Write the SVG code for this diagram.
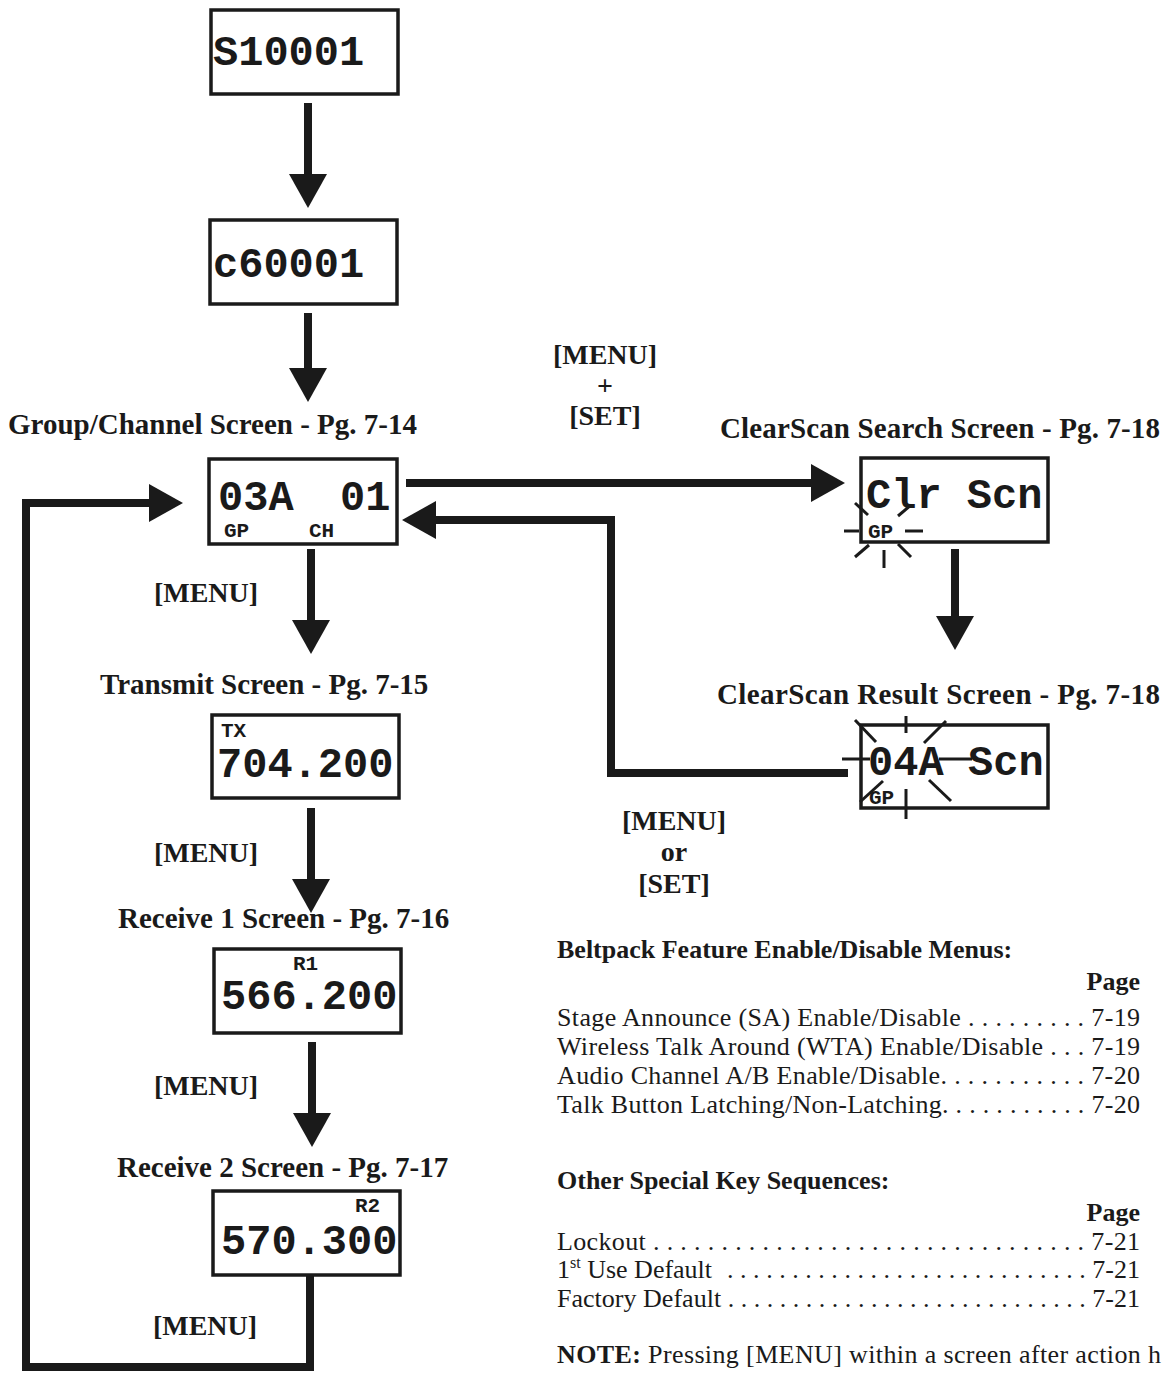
<svg xmlns="http://www.w3.org/2000/svg" width="1164" height="1374" viewBox="0 0 1164 1374">
<style>
.box{fill:#fff;stroke:#1a1a1a;stroke-width:3.5}
.big{font-family:"Liberation Mono","Courier New",monospace;font-weight:bold;font-size:42px;fill:#1a1a1a}
.sm{font-family:"Liberation Mono","Courier New",monospace;font-weight:bold;font-size:21px;fill:#1a1a1a}
.hd{font-family:"Liberation Serif","Times New Roman",serif;font-weight:bold;font-size:29px;fill:#1a1a1a}
.key{font-family:"Liberation Serif","Times New Roman",serif;font-weight:bold;font-size:28px;fill:#1a1a1a;text-anchor:middle}
.tb{font-family:"Liberation Serif","Times New Roman",serif;font-weight:bold;font-size:26px;fill:#1a1a1a}
.tr{font-family:"Liberation Serif","Times New Roman",serif;font-size:26px;fill:#1a1a1a}
.conn{fill:none;stroke:#1a1a1a;stroke-width:8}
.flash{stroke:#1a1a1a;stroke-width:3}
</style>
<defs>
<marker id="ah" viewBox="0 0 34 38" refX="4" refY="19" markerWidth="34" markerHeight="38" markerUnits="userSpaceOnUse" orient="auto">
<path d="M0,0 L34,19 L0,38 Z" fill="#1a1a1a"/>
</marker>
</defs>

<g id="connectors">
<line class="conn" x1="308" y1="103" x2="308" y2="178" marker-end="url(#ah)"/>
<line class="conn" x1="308" y1="313" x2="308" y2="372" marker-end="url(#ah)"/>
<line class="conn" x1="311" y1="549" x2="311" y2="624" marker-end="url(#ah)"/>
<line class="conn" x1="311" y1="808" x2="311" y2="883" marker-end="url(#ah)"/>
<line class="conn" x1="312" y1="1042" x2="312" y2="1117" marker-end="url(#ah)"/>
<polyline class="conn" points="310,1275 310,1367 26,1367 26,503 153,503" marker-end="url(#ah)"/>
<line class="conn" x1="406" y1="483" x2="815" y2="483" marker-end="url(#ah)"/>
<polyline class="conn" points="848,773 611,773 611,520 432,520" marker-end="url(#ah)"/>
<line class="conn" x1="955" y1="549" x2="955" y2="620" marker-end="url(#ah)"/>
</g>

<g id="labels">
<text class="key" x="605" y="364">[MENU]</text>
<text class="key" x="605" y="395">+</text>
<text class="key" x="605" y="425">[SET]</text>
<text class="key" x="206" y="602">[MENU]</text>
<text class="key" x="206" y="862">[MENU]</text>
<text class="key" x="206" y="1095">[MENU]</text>
<text class="key" x="205" y="1335">[MENU]</text>
<text class="key" x="674" y="830">[MENU]</text>
<text class="key" x="674" y="861">or</text>
<text class="key" x="674" y="893">[SET]</text>
</g>

<g id="node-s10001">
<rect class="box" x="211" y="10" width="187" height="84"/>
<text class="big" x="213" y="65">S10001</text>
</g>

<g id="node-c60001">
<rect class="box" x="210" y="220" width="187" height="84"/>
<text class="big" x="213" y="277">c60001</text>
</g>

<g id="node-group-channel">
<text class="hd" x="8" y="434">Group/Channel Screen - Pg. 7-14</text>
<rect class="box" x="209" y="459" width="188" height="85"/>
<text class="big" x="218" y="510">03A</text>
<text class="big" x="340" y="510">01</text>
<text class="sm" x="224" y="537">GP</text>
<text class="sm" x="309" y="537">CH</text>
</g>

<g id="node-clearscan-search">
<text class="hd" x="720" y="438" textLength="440" lengthAdjust="spacing">ClearScan Search Screen - Pg. 7-18</text>
<rect class="box" x="861" y="458" width="187" height="84"/>
<text class="big" x="866" y="508">Clr Scn</text>
<text class="sm" x="868" y="538">GP</text>
<line class="flash" x1="844" y1="531" x2="859" y2="531"/>
<line class="flash" x1="905" y1="531" x2="923" y2="531"/>
<line class="flash" x1="855" y1="503" x2="868" y2="515"/>
<line class="flash" x1="898" y1="516" x2="911" y2="505"/>
<line class="flash" x1="855" y1="557" x2="869" y2="545"/>
<line class="flash" x1="884" y1="550" x2="884" y2="568"/>
<line class="flash" x1="898" y1="544" x2="911" y2="557"/>
</g>

<g id="node-clearscan-result">
<text class="hd" x="717" y="704" textLength="443" lengthAdjust="spacing">ClearScan Result Screen - Pg. 7-18</text>
<rect class="box" x="861" y="725" width="187" height="83"/>
<text class="big" x="868" y="775">04A</text>
<text class="big" x="968" y="775">Scn</text>
<text class="sm" x="869" y="804">GP</text>
<line class="flash" x1="906" y1="716" x2="906" y2="733"/>
<line class="flash" x1="855" y1="720" x2="876" y2="742"/>
<line class="flash" x1="946" y1="721" x2="924" y2="743"/>
<line class="flash" x1="842" y1="759" x2="870" y2="759"/>
<line class="flash" x1="939" y1="759" x2="972" y2="759"/>
<line class="flash" x1="883" y1="781" x2="860" y2="802"/>
<line class="flash" x1="929" y1="780" x2="951" y2="801"/>
<line class="flash" x1="906" y1="789" x2="906" y2="819"/>
</g>

<g id="node-transmit">
<text class="hd" x="100" y="694">Transmit Screen - Pg. 7-15</text>
<rect class="box" x="212" y="715" width="187" height="83"/>
<text class="sm" x="221" y="737">TX</text>
<text class="big" x="217" y="777">704.200</text>
</g>

<g id="node-receive1">
<text class="hd" x="118" y="928">Receive 1 Screen - Pg. 7-16</text>
<rect class="box" x="214" y="949" width="187" height="84"/>
<text class="sm" x="293" y="970">R1</text>
<text class="big" x="221" y="1009">566.200</text>
</g>

<g id="node-receive2">
<text class="hd" x="117" y="1177">Receive 2 Screen - Pg. 7-17</text>
<rect class="box" x="213" y="1191" width="187" height="84"/>
<text class="sm" x="355" y="1212">R2</text>
<text class="big" x="221" y="1254">570.300</text>
</g>

<g id="menus-table">
<text class="tb" x="557" y="958">Beltpack Feature Enable/Disable Menus:</text>
<text class="tb" x="1140" y="990" text-anchor="end">Page</text>
<text class="tr" x="557" y="1026" textLength="583" lengthAdjust="spacing">Stage Announce (SA) Enable/Disable . . . . . . . . . 7-19</text>
<text class="tr" x="557" y="1055" textLength="583" lengthAdjust="spacing">Wireless Talk Around (WTA) Enable/Disable . . . 7-19</text>
<text class="tr" x="557" y="1084" textLength="583" lengthAdjust="spacing">Audio Channel A/B Enable/Disable. . . . . . . . . . . 7-20</text>
<text class="tr" x="557" y="1113" textLength="583" lengthAdjust="spacing">Talk Button Latching/Non-Latching. . . . . . . . . . . 7-20</text>
</g>

<g id="keys-table">
<text class="tb" x="557" y="1189">Other Special Key Sequences:</text>
<text class="tb" x="1140" y="1221" text-anchor="end">Page</text>
<text class="tr" x="557" y="1250" textLength="583" lengthAdjust="spacing">Lockout  . . . . . . . . . . . . . . . . . . . . . . . . . . . . . . . . 7-21</text>
<text class="tr" x="557" y="1278">1<tspan font-size="16" dy="-10">st</tspan><tspan dy="10"> Use Default</tspan></text>
<text class="tr" x="727" y="1278" textLength="413" lengthAdjust="spacing">. . . . . . . . . . . . . . . . . . . . . . . . . . . . 7-21</text>
<text class="tr" x="557" y="1307" textLength="583" lengthAdjust="spacing">Factory Default  . . . . . . . . . . . . . . . . . . . . . . . . . . . . 7-21</text>
<text class="tr" x="557" y="1363" textLength="604" lengthAdjust="spacing"><tspan font-weight="bold">NOTE:</tspan>  Pressing [MENU] within a screen after action h</text>
</g>
</svg>
